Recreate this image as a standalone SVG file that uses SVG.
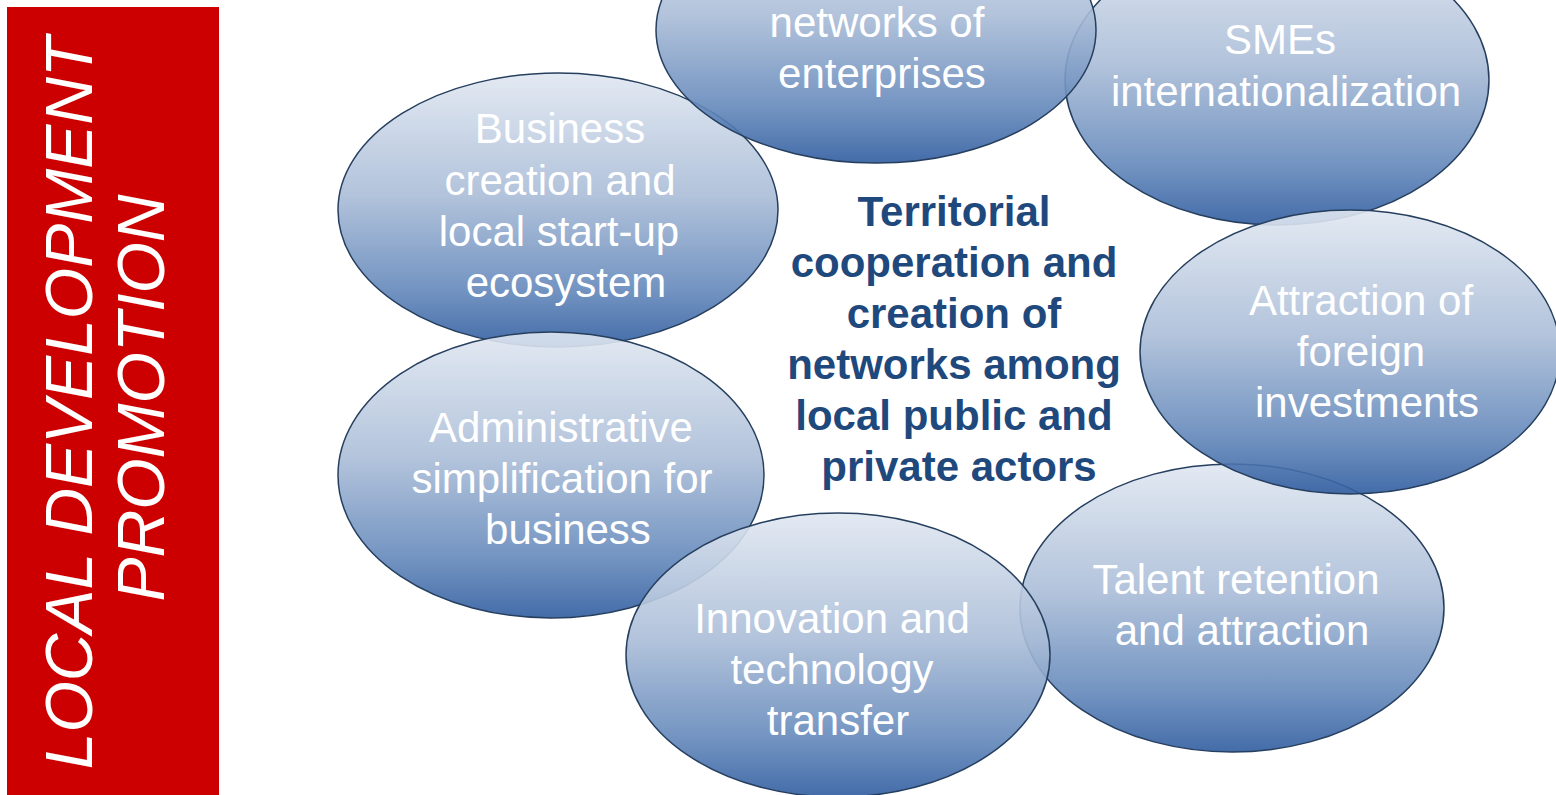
<svg xmlns="http://www.w3.org/2000/svg" width="1556" height="795" viewBox="0 0 1556 795">
<defs>
<linearGradient id="g" x1="0" y1="0" x2="0" y2="1">
<stop offset="0" stop-color="#e0e7f1"/>
<stop offset="0.45" stop-color="#a9bcd7"/>
<stop offset="0.8" stop-color="#6287ba"/>
<stop offset="1" stop-color="#2f5c9f"/>
</linearGradient>
<style>
.ell{fill:url(#g);fill-opacity:0.9;stroke:#263f5e;stroke-width:1.5}
.lbl{font-family:"Liberation Sans",Arial,sans-serif;font-size:42px;fill:#ffffff;text-anchor:middle}
.ctr{font-family:"Liberation Sans",Arial,sans-serif;font-size:42px;font-weight:bold;fill:#1f497d;text-anchor:middle}
.side{font-family:"Liberation Sans",Arial,sans-serif;font-size:66px;font-style:italic;fill:#ffffff;text-anchor:middle}
</style>
</defs>
<rect width="1556" height="795" fill="#ffffff"/>
<g id="sidebar">
<rect x="7" y="7" width="212" height="788" fill="#cc0000"/>
<text class="side" transform="translate(92,403) rotate(-90)" x="0" y="0">LOCAL DEVELOPMENT</text>
<text class="side" transform="translate(164,398) rotate(-90)" x="0" y="0">PROMOTION</text>
</g>
<g id="connectors"></g>
<g id="n-smes">
<ellipse class="ell" cx="1277" cy="80" rx="212" ry="145"/>
<text class="lbl" x="1280" y="54">SMEs</text>
<text class="lbl" x="1286" y="106">internationalization</text>
</g>
<g id="n-business">
<ellipse class="ell" cx="558" cy="210" rx="220" ry="137"/>
<text class="lbl" x="560" y="143">Business</text>
<text class="lbl" x="560" y="195">creation and</text>
<text class="lbl" x="559" y="246">local start-up</text>
<text class="lbl" x="566" y="297">ecosystem</text>
</g>
<g id="n-admin">
<ellipse class="ell" cx="551" cy="475" rx="213" ry="143"/>
<text class="lbl" x="561" y="442">Administrative</text>
<text class="lbl" x="562" y="493">simplification for</text>
<text class="lbl" x="568" y="544">business</text>
</g>
<g id="n-talent">
<ellipse class="ell" cx="1232" cy="608" rx="212" ry="144"/>
<text class="lbl" x="1236" y="594">Talent retention</text>
<text class="lbl" x="1242" y="645">and attraction</text>
</g>
<g id="n-attraction">
<ellipse class="ell" cx="1350" cy="352" rx="210" ry="142"/>
<text class="lbl" x="1361" y="315">Attraction of</text>
<text class="lbl" x="1361" y="366">foreign</text>
<text class="lbl" x="1367" y="417">investments</text>
</g>
<g id="n-innovation">
<ellipse class="ell" cx="838" cy="655" rx="212" ry="142"/>
<text class="lbl" x="832" y="633">Innovation and</text>
<text class="lbl" x="832" y="684">technology</text>
<text class="lbl" x="838" y="735">transfer</text>
</g>
<g id="n-networks">
<ellipse class="ell" cx="876" cy="30" rx="220" ry="133"/>
<text class="lbl" x="877" y="37">networks of</text>
<text class="lbl" x="882" y="88">enterprises</text>
</g>
<g id="n-center">
<text class="ctr" x="954" y="226">Territorial</text>
<text class="ctr" x="954" y="277">cooperation and</text>
<text class="ctr" x="954" y="328">creation of</text>
<text class="ctr" x="954" y="379">networks among</text>
<text class="ctr" x="954" y="430">local public and</text>
<text class="ctr" x="959" y="481">private actors</text>
</g>
</svg>
